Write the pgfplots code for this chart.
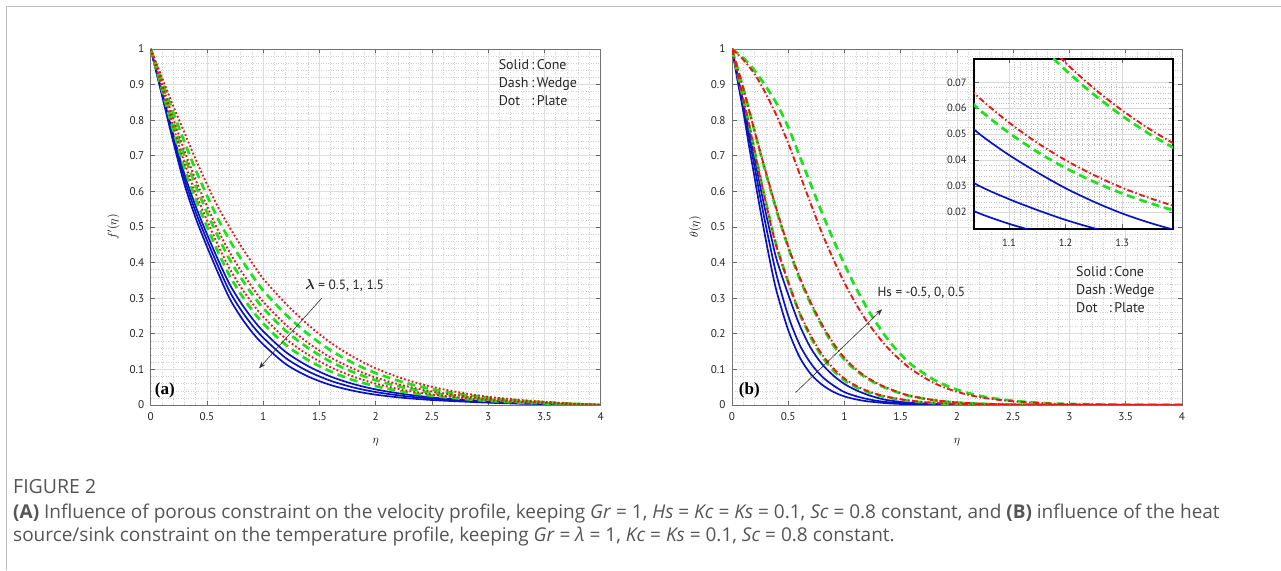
\documentclass[border=0pt]{standalone}
\usepackage{fontspec}
\usepackage{amsmath}
\usepackage{pgfplots}
\pgfplotsset{compat=1.18}
\usetikzlibrary{arrows.meta}
\setmainfont{Open Sans}
\newfontfamily\myr{PT Sans}
\newfontfamily\tms{Liberation Serif}
\definecolor{cblue}{RGB}{10,20,190}
\definecolor{cgreen}{RGB}{30,225,30}
\definecolor{cred}{RGB}{230,25,25}
\definecolor{capgray}{RGB}{85,85,85}
\pgfplotsset{
  mstyle/.style={scale only axis, clip=true, grid=both,
    major grid style={black!13, line width=0.7pt},
    minor grid style={black!18, line width=0.5pt, dotted},
    minor tick length=0pt, major tick length=4.5pt,
    axis line style={black!55, line width=0.7pt},
    tick style={black!60, line width=0.6pt},
    tick label style={font=\myr\fontsize{11.2}{13}\selectfont, text=black!85},
    /pgf/number format/assume math mode=true,
    scaled ticks=false,
    xticklabel style={yshift=-4pt}, yticklabel style={xshift=-3pt},
  },
  bl/.style={cblue, line width=1.7pt, smooth},
  gr/.style={cgreen, line width=2.7pt, dash pattern=on 8pt off 5pt, smooth},
  rdot/.style={cred, line width=1.9pt, dash pattern=on 1.8pt off 2.2pt, smooth},
  rdd/.style={cred, line width=1.9pt, dash pattern=on 6pt off 2.5pt on 1.5pt off 2.5pt, smooth},
}
\begin{document}
\begin{tikzpicture}
\path[use as bounding box, fill=white] (0pt,0pt) rectangle (1281pt,570pt);
\draw[black!25, line width=1pt] (6pt,0pt) -- (6pt,563pt) -- (1281pt,563pt);

% ---------------- left panel ----------------
\begin{axis}[mstyle, at={(150.7pt,165pt)}, anchor=south west, width=450pt, height=356pt,
  xmin=0, xmax=4, ymin=0, ymax=1,
  xtick={0,0.5,1,1.5,2,2.5,3,3.5,4},
  ytick={0,0.1,0.2,0.3,0.4,0.5,0.6,0.7,0.8,0.9,1},
  minor x tick num=4, minor y tick num=4,
  xlabel={$\eta$}, ylabel={$f'(\eta)$},
  xlabel style={at={(axis description cs:0.5,-0.103)}, anchor=center, font=\fontsize{12.5}{14}\selectfont},
  ylabel style={at={(axis description cs:-0.083,0.5)}, anchor=center, rotate=0, font=\fontsize{11.5}{13}\selectfont},
]
\addplot[bl] coordinates {(0,1)(0.1,.87)(0.2,.74)(0.3,.62)(0.4,.525)(0.5,.445)(0.6,.37)(0.7,.30)(0.8,.248)(0.9,.205)(1.0,.17)(1.2,.115)(1.4,.08)(1.6,.056)(1.8,.04)(2.0,.029)(2.25,.02)(2.5,.014)(2.75,.01)(3.0,.0065)(3.25,.004)(3.5,.0025)(3.75,.001)(4,0)};
\addplot[bl] coordinates {(0,1)(0.1,.875)(0.2,.75)(0.3,.635)(0.4,.542)(0.5,.463)(0.6,.389)(0.7,.32)(0.8,.268)(0.9,.225)(1.0,.189)(1.2,.132)(1.4,.0945)(1.6,.068)(1.8,.0495)(2.0,.0364)(2.25,.0253)(2.5,.0177)(2.75,.0125)(3.0,.0082)(3.25,.0051)(3.5,.0032)(3.75,.0013)(4,0)};
\addplot[bl] coordinates {(0,1)(0.1,.88)(0.2,.76)(0.3,.649)(0.4,.558)(0.5,.48)(0.6,.407)(0.7,.34)(0.8,.288)(0.9,.244)(1.0,.207)(1.2,.149)(1.4,.109)(1.6,.0798)(1.8,.059)(2.0,.0438)(2.25,.0306)(2.5,.0214)(2.75,.015)(3.0,.0098)(3.25,.0062)(3.5,.0038)(3.75,.0016)(4,0)};
\addplot[gr] coordinates {(0,1)(0.1,.886)(0.2,.772)(0.3,.666)(0.4,.578)(0.5,.501)(0.6,.429)(0.7,.364)(0.8,.312)(0.9,.267)(1.0,.229)(1.2,.169)(1.4,.126)(1.6,.094)(1.8,.070)(2.0,.053)(2.25,.037)(2.5,.026)(2.75,.018)(3.0,.0118)(3.25,.0075)(3.5,.0046)(3.75,.002)(4,0)};
\addplot[gr] coordinates {(0,1)(0.1,.898)(0.2,.795)(0.3,.700)(0.4,.616)(0.5,.541)(0.6,.472)(0.7,.41)(0.8,.358)(0.9,.312)(1.0,.272)(1.2,.2085)(1.4,.160)(1.6,.1215)(1.8,.0923)(2.0,.0697)(2.25,.0492)(2.5,.0344)(2.75,.0238)(3.0,.0156)(3.25,.010)(3.5,.0061)(3.75,.0027)(4,0)};
\addplot[gr] coordinates {(0,1)(0.1,.911)(0.2,.822)(0.3,.739)(0.4,.660)(0.5,.5885)(0.6,.5217)(0.7,.464)(0.8,.412)(0.9,.365)(1.0,.3217)(1.2,.2544)(1.4,.1989)(1.6,.1536)(1.8,.1179)(2.0,.0897)(2.25,.0635)(2.5,.0443)(2.75,.0305)(3.0,.020)(3.25,.013)(3.5,.0078)(3.75,.0035)(4,0)};
\addplot[rdot] coordinates {(0,1)(0.1,.891)(0.2,.782)(0.3,.681)(0.4,.594)(0.5,.519)(0.6,.448)(0.7,.384)(0.8,.332)(0.9,.287)(1.0,.248)(1.2,.186)(1.4,.141)(1.6,.106)(1.8,.080)(2.0,.060)(2.25,.042)(2.5,.0295)(2.75,.0205)(3.0,.0134)(3.25,.0086)(3.5,.0052)(3.75,.0023)(4,0)};
\addplot[rdot] coordinates {(0,1)(0.1,.9025)(0.2,.805)(0.3,.714)(0.4,.632)(0.5,.559)(0.6,.490)(0.7,.43)(0.8,.378)(0.9,.332)(1.0,.290)(1.2,.2255)(1.4,.1743)(1.6,.1334)(1.8,.1018)(2.0,.0771)(2.25,.0545)(2.5,.0381)(2.75,.0263)(3.0,.0172)(3.25,.0112)(3.5,.0067)(3.75,.003)(4,0)};
\addplot[rdot] coordinates {(0,1)(0.1,.92)(0.2,.84)(0.3,.765)(0.4,.69)(0.5,.62)(0.6,.555)(0.7,.50)(0.8,.448)(0.9,.40)(1.0,.355)(1.2,.285)(1.4,.225)(1.6,.175)(1.8,.135)(2.0,.103)(2.25,.073)(2.5,.051)(2.75,.035)(3.0,.023)(3.25,.015)(3.5,.009)(3.75,.004)(4,0)};
\node[anchor=west, font=\myr\fontsize{14}{18}\selectfont, text=black!85, inner sep=0pt] at (axis cs:3.092,0.902)
  {\begin{tabular}{@{}l@{\,:\,}l@{}}Solid & Cone\\ Dash & Wedge\\ Dot & Plate\end{tabular}};
\node[anchor=west, font=\myr\fontsize{13.4}{15}\selectfont, text=black!85, inner sep=0pt] at (axis cs:1.37,0.337)
  {$\boldsymbol{\lambda}$ = 0.5, 1, 1.5};
\draw[-{Stealth[length=7pt,width=5pt]}, black!80, line width=0.6pt] (axis cs:1.52,0.30) -- (axis cs:0.963,0.103);
\node[anchor=west, font=\tms\bfseries\fontsize{17}{19}\selectfont, inner sep=0pt] at (axis cs:0.035,0.04) {(a)};
\end{axis}

% ---------------- right panel ----------------
\begin{axis}[mstyle, at={(732pt,165pt)}, anchor=south west, width=450pt, height=356pt,
  xmin=0, xmax=4, ymin=0, ymax=1,
  xtick={0,0.5,1,1.5,2,2.5,3,3.5,4},
  ytick={0,0.1,0.2,0.3,0.4,0.5,0.6,0.7,0.8,0.9,1},
  minor x tick num=4, minor y tick num=4,
  xlabel={$\eta$}, ylabel={$\theta(\eta)$},
  xlabel style={at={(axis description cs:0.5,-0.103)}, anchor=center, font=\fontsize{12.5}{14}\selectfont},
  ylabel style={at={(axis description cs:-0.082,0.5)}, anchor=center, rotate=0, font=\fontsize{11.5}{13}\selectfont},
]
\addplot[bl] coordinates {(0,1)(0.05,0.91)(0.1,0.825)(0.15,0.73)(0.2,0.64)(0.25,0.55)(0.3,0.465)(0.35,0.385)(0.4,0.315)(0.5,0.21)(0.6,0.135)(0.7,0.087)(0.8,0.057)(0.9,0.037)(1.0,0.024)(1.1,0.016)(1.2,0.0105)(1.4,0.0045)(1.6,0.002)(2.0,0.0003)(2.5,0)(4,0)};
\addplot[bl] coordinates {(0,1)(0.05,0.92)(0.1,0.84)(0.15,0.755)(0.2,0.67)(0.25,0.585)(0.3,0.505)(0.35,0.43)(0.4,0.36)(0.5,0.25)(0.6,0.17)(0.7,0.117)(0.8,0.08)(0.9,0.055)(1.0,0.036)(1.1,0.025)(1.2,0.017)(1.3,0.0112)(1.4,0.0075)(1.6,0.0035)(1.8,0.0015)(2.0,0.0007)(2.5,0.0001)(4,0)};
\addplot[bl] coordinates {(0,1)(0.05,0.925)(0.1,0.85)(0.15,0.775)(0.2,0.695)(0.25,0.615)(0.3,0.54)(0.35,0.47)(0.4,0.405)(0.5,0.31)(0.6,0.225)(0.7,0.16)(0.8,0.115)(0.9,0.083)(1.0,0.059)(1.1,0.042)(1.2,0.0292)(1.3,0.0195)(1.4,0.0127)(1.6,0.006)(1.8,0.0028)(2.0,0.0013)(2.5,0.0002)(4,0)};
\addplot[gr] coordinates {(0,1)(0.05,0.93)(0.1,0.86)(0.15,0.79)(0.2,0.715)(0.25,0.642)(0.3,0.572)(0.35,0.503)(0.4,0.442)(0.5,0.345)(0.6,0.258)(0.7,0.19)(0.8,0.136)(0.9,0.097)(1.0,0.069)(1.1,0.0505)(1.2,0.037)(1.3,0.0272)(1.4,0.0201)(1.6,0.0105)(1.8,0.0055)(2.0,0.0029)(2.25,0.0013)(2.5,0.0005)(3,0.0001)(4,0)};
\addplot[gr] coordinates {(0,1)(0.1,0.89)(0.2,0.77)(0.3,0.652)(0.4,0.542)(0.5,0.442)(0.6,0.356)(0.7,0.284)(0.8,0.222)(0.9,0.168)(1.0,0.127)(1.1,0.0975)(1.2,0.0747)(1.3,0.0571)(1.4,0.0437)(1.5,0.0325)(1.6,0.024)(1.8,0.013)(2.0,0.0069)(2.25,0.0032)(2.5,0.0014)(2.75,0.0006)(3,0.0002)(4,0)};
\addplot[gr] coordinates {(0,1)(0.1,0.975)(0.2,0.94)(0.3,0.895)(0.4,0.845)(0.5,0.78)(0.6,0.70)(0.7,0.62)(0.8,0.54)(0.9,0.465)(1.0,0.395)(1.1,0.33)(1.2,0.272)(1.3,0.222)(1.4,0.178)(1.5,0.142)(1.6,0.112)(1.8,0.07)(2.0,0.043)(2.2,0.026)(2.4,0.0155)(2.6,0.009)(2.8,0.005)(3.0,0.0028)(3.5,0.0006)(4,0)};
\addplot[rdd] coordinates {(0,1)(0.05,0.93)(0.1,0.86)(0.15,0.79)(0.2,0.715)(0.25,0.64)(0.3,0.57)(0.35,0.50)(0.4,0.44)(0.5,0.345)(0.6,0.26)(0.7,0.195)(0.8,0.142)(0.9,0.103)(1.0,0.074)(1.1,0.0545)(1.2,0.040)(1.3,0.0294)(1.4,0.0218)(1.6,0.0115)(1.8,0.006)(2.0,0.0032)(2.25,0.0014)(2.5,0.0006)(3,0.0001)(4,0)};
\addplot[rdd] coordinates {(0,1)(0.1,0.89)(0.2,0.77)(0.3,0.655)(0.4,0.545)(0.5,0.445)(0.6,0.36)(0.7,0.288)(0.8,0.226)(0.9,0.174)(1.0,0.132)(1.1,0.101)(1.2,0.0775)(1.3,0.0592)(1.4,0.0453)(1.5,0.0335)(1.6,0.0247)(1.8,0.0135)(2.0,0.0072)(2.25,0.0033)(2.5,0.0015)(2.75,0.0006)(3,0.0002)(4,0)};
\addplot[rdd] coordinates {(0,1)(0.1,0.97)(0.2,0.93)(0.3,0.875)(0.4,0.81)(0.5,0.735)(0.6,0.65)(0.7,0.565)(0.8,0.483)(0.9,0.41)(1.0,0.343)(1.1,0.285)(1.2,0.234)(1.3,0.192)(1.4,0.155)(1.5,0.125)(1.6,0.099)(1.8,0.061)(2.0,0.037)(2.2,0.022)(2.4,0.0135)(2.6,0.008)(2.8,0.0045)(3.0,0.0025)(3.5,0.0005)(4,0)};
\node[anchor=west, font=\myr\fontsize{14}{18}\selectfont, text=black!85, inner sep=0pt] at (axis cs:3.058,0.321)
  {\begin{tabular}{@{}l@{\,:\,}l@{}}Solid & Cone\\ Dash & Wedge\\ Dot & Plate\end{tabular}};
\node[anchor=west, font=\myr\fontsize{13.2}{15}\selectfont, text=black!85, inner sep=0pt] at (axis cs:1.292,0.314)
  {Hs = -0.5, 0, 0.5};
\draw[-{Stealth[length=7pt,width=5pt]}, black!80, line width=0.6pt] (axis cs:0.565,0.035) -- (axis cs:1.335,0.269);
\node[anchor=west, font=\tms\bfseries\fontsize{17}{19}\selectfont, inner sep=0pt] at (axis cs:0.06,0.04) {(b)};
\end{axis}

% ---------------- inset ----------------
\begin{axis}[mstyle, at={(974pt,341pt)}, anchor=south west, width=199pt, height=170pt,
  axis background/.style={fill=white},
  xmin=1.038, xmax=1.39, ymin=0.0135, ymax=0.079,
  xtick={1.1,1.2,1.3}, xticklabels={1.1,1.2,1.3},
  ytick={0.02,0.03,0.04,0.05,0.06,0.07}, yticklabels={0.02,0.03,0.04,0.05,0.06,0.07},
  minor x tick num=9, minor y tick num=4,
  axis line style={black, line width=1.1pt},
  tick label style={font=\myr\fontsize{10.5}{12}\selectfont, text=black!85},
  xticklabel style={yshift=-2pt}, yticklabel style={xshift=-1pt},
  major grid style={black!15, line width=0.6pt},
  minor grid style={black!25, line width=0.45pt, dotted},
]
\addplot[bl] coordinates {(1.0,0.024)(1.05,0.0193)(1.1,0.0155)(1.15,0.0124)(1.2,0.010)};
\addplot[bl] coordinates {(1.0,0.036)(1.05,0.0298)(1.1,0.025)(1.15,0.0208)(1.2,0.017)(1.25,0.0138)(1.3,0.0112)(1.35,0.0091)};
\addplot[bl] coordinates {(1.0,0.059)(1.05,0.0497)(1.1,0.042)(1.15,0.0353)(1.2,0.0292)(1.25,0.024)(1.3,0.0195)(1.35,0.0158)(1.4,0.0127)};
\addplot[gr] coordinates {(1.0,0.069)(1.05,0.059)(1.1,0.0505)(1.15,0.0432)(1.2,0.037)(1.25,0.0317)(1.3,0.0272)(1.35,0.0234)(1.4,0.0201)};
\addplot[gr] coordinates {(1.1,0.0975)(1.15,0.0855)(1.2,0.0747)(1.25,0.0653)(1.3,0.0571)(1.35,0.0499)(1.4,0.0437)};
\addplot[rdd] coordinates {(1.0,0.074)(1.05,0.0635)(1.1,0.0545)(1.15,0.0467)(1.2,0.040)(1.25,0.0343)(1.3,0.0294)(1.35,0.0253)(1.4,0.0218)};
\addplot[rdd] coordinates {(1.1,0.101)(1.15,0.0887)(1.2,0.0775)(1.25,0.0677)(1.3,0.0592)(1.35,0.0518)(1.4,0.0453)};
\end{axis}

% ---------------- caption ----------------
\node[anchor=base west, inner sep=0pt, text=capgray, font=\fontsize{19.5}{22}\selectfont] at (13pt,77pt) {FIGURE 2};
\node[anchor=base west, inner sep=0pt, text=capgray, font=\fontsize{19}{22}\selectfont] at (13pt,52pt)
  {\textbf{(A)} Influence of porous constraint on the velocity profile, keeping \textit{Gr} = 1, \textit{Hs} = \textit{Kc} = \textit{Ks} = 0.1, \textit{Sc} = 0.8 constant, and \textbf{(B)} influence of the heat};
\node[anchor=base west, inner sep=0pt, text=capgray, font=\fontsize{19}{22}\selectfont] at (13pt,29pt)
  {source/sink constraint on the temperature profile, keeping \textit{Gr} = \textit{λ} = 1, \textit{Kc} = \textit{Ks} = 0.1, \textit{Sc} = 0.8 constant.};
\end{tikzpicture}
\end{document}
